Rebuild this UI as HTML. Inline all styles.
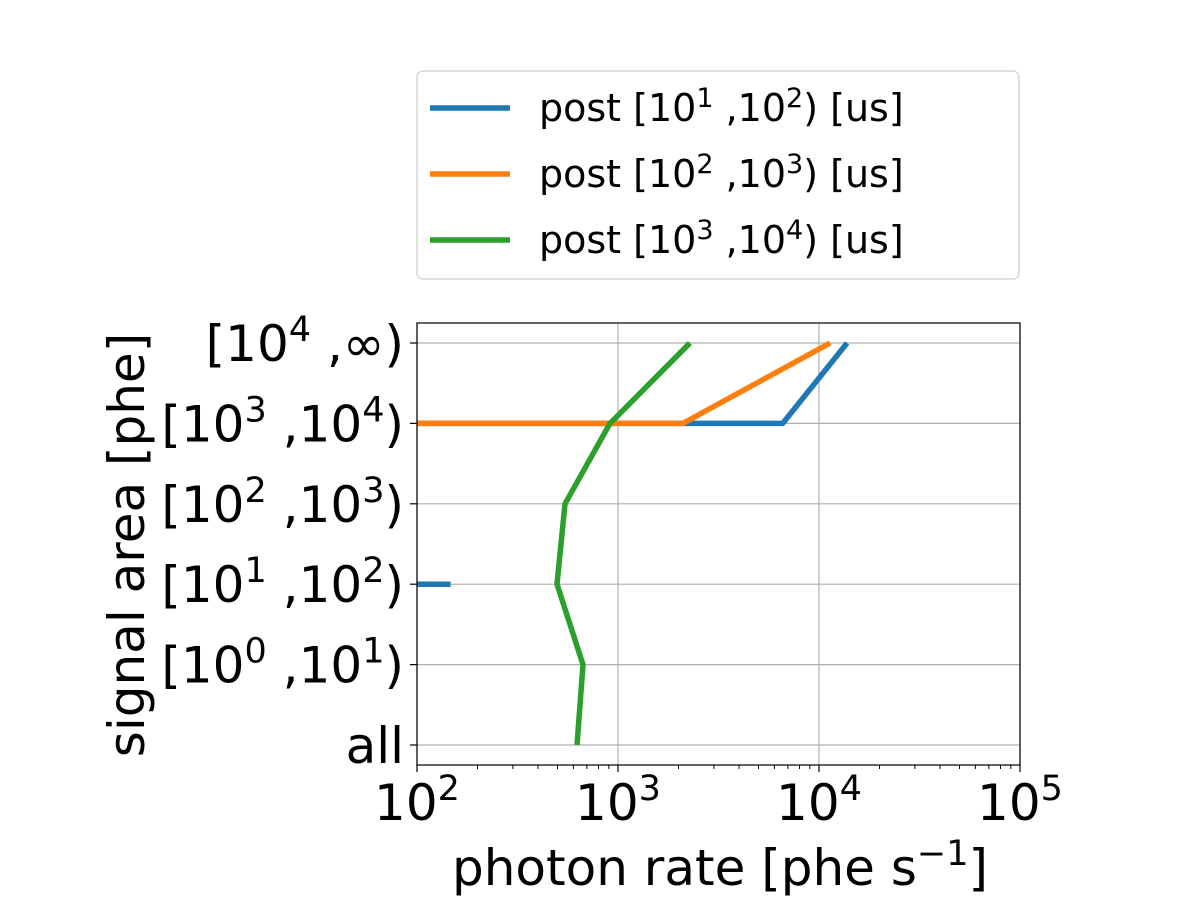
<!DOCTYPE html>
<html><head><meta charset="utf-8"><style>
html,body{margin:0;padding:0;background:#fff;}
svg{display:block;font-family:"DejaVu Sans","Liberation Sans",sans-serif;}
</style></head><body>
<svg id="chart" width="1200" height="900" viewBox="0 0 1200 900">
<g id="grid"></g>
<g id="series"></g>
<rect x="417" y="323" width="603" height="442" fill="none" stroke="#000" stroke-width="1.2"/>
<g id="ticks"></g>
<text x="720" y="885" font-size="50" text-anchor="middle">photon rate [phe s<tspan font-size="35" dy="-20">−1</tspan><tspan dy="20">]</tspan></text>
<text transform="translate(144,545) rotate(-90)" font-size="50" text-anchor="middle">signal area [phe]</text>
<g>
<rect x="417" y="71" width="602" height="208" rx="6" fill="#fff" stroke="#ccc" stroke-width="1.2"/>
<line x1="430" y1="108" x2="510" y2="108" stroke="#1f77b4" stroke-width="5.5"/>
<text x="539" y="121" font-size="38">post [10<tspan font-size="27" dy="-14">1</tspan><tspan dy="14"> ,10</tspan><tspan font-size="27" dy="-14">2</tspan><tspan dy="14">) [us]</tspan></text>
<line x1="430" y1="174" x2="510" y2="174" stroke="#ff7f0e" stroke-width="5.5"/>
<text x="539" y="187" font-size="38">post [10<tspan font-size="27" dy="-14">2</tspan><tspan dy="14"> ,10</tspan><tspan font-size="27" dy="-14">3</tspan><tspan dy="14">) [us]</tspan></text>
<line x1="430" y1="240" x2="510" y2="240" stroke="#2ca02c" stroke-width="5.5"/>
<text x="539" y="253" font-size="38">post [10<tspan font-size="27" dy="-14">3</tspan><tspan dy="14"> ,10</tspan><tspan font-size="27" dy="-14">4</tspan><tspan dy="14">) [us]</tspan></text>
</g>
</svg>
<script>
const categories = ["all","[10^0,10^1)","[10^1,10^2)","[10^2,10^3)","[10^3,10^4)","[10^4,inf)"];
const xTickExps = [2,3,4,5];
// series: segments of [categoryIndex, value]; value 0 = clipped at axis left
const blueSeg1Cat = [2,2], blueSeg1Val = [0,147];
const blueSeg2Cat = [4,4,5], blueSeg2Val = [0,6600,13800];
const orangeCat = [4,4,5], orangeVal = [0,2100,11350];
const greenCat = [0,1,2,3,4,5], greenVal = [625,670,497,545,912,2280];

const NS="http://www.w3.org/2000/svg";
const X0=417,X1=1020,Y0=323,Y1=765,LMIN=2,LMAX=5;
const xs=v=>v<=0?X0-40:X0+(Math.log10(v)-LMIN)/(LMAX-LMIN)*(X1-X0);
const ys=i=>745-i*80.4;
function mk(t,a,p){const e=document.createElementNS(NS,t);for(const k in a)e.setAttribute(k,a[k]);p.appendChild(e);return e;}
const grid=document.getElementById('grid'),ticks=document.getElementById('ticks'),ser=document.getElementById('series');
xTickExps.forEach(ex=>{const x=xs(Math.pow(10,ex));
 const g=mk('line',{x1:x,x2:x,y1:Y0,y2:Y1,stroke:'#b0b0b0','stroke-width':1.2},grid);
 
 const t=mk('line',{x1:x,x2:x,y1:Y1,y2:Y1+7,stroke:'#000','stroke-width':1.2},ticks);
 
 const l=mk('text',{x:x,y:Y1+55,'font-size':50,'text-anchor':'middle'},ticks);
 l.innerHTML='10<tspan font-size="35" dy="-20">'+ex+'</tspan>';
 
 if(ex<LMAX)for(let m=2;m<10;m++){const xm=xs(m*Math.pow(10,ex));
  const mt=mk('line',{x1:xm,x2:xm,y1:Y1,y2:Y1+4,stroke:'#000','stroke-width':1},ticks);
  }
});
const sup=(a)=>'<tspan font-size="35" dy="-20">'+a+'</tspan>';
const labs=['all','[10'+sup(0)+'<tspan dy="20"> ,10</tspan>'+sup(1)+'<tspan dy="20">)</tspan>',
'[10'+sup(1)+'<tspan dy="20"> ,10</tspan>'+sup(2)+'<tspan dy="20">)</tspan>',
'[10'+sup(2)+'<tspan dy="20"> ,10</tspan>'+sup(3)+'<tspan dy="20">)</tspan>',
'[10'+sup(3)+'<tspan dy="20"> ,10</tspan>'+sup(4)+'<tspan dy="20">)</tspan>',
'[10'+sup(4)+'<tspan dy="20"> ,∞)</tspan>'];
categories.forEach((c,i)=>{const y=ys(i);
 const g=mk('line',{x1:X0,x2:X1,y1:y,y2:y,stroke:'#b0b0b0','stroke-width':1.2},grid);
 
 const t=mk('line',{x1:X0-7,x2:X0,y1:y,y2:y,stroke:'#000','stroke-width':1.2},ticks);
 
 const l=mk('text',{x:X0-13,y:y+18,'font-size':50,'text-anchor':'end'},ticks);
 l.innerHTML=labs[i];
 
});
const cp=mk('clipPath',{id:'cp'},ser);
mk('rect',{x:X0,y:Y0-20,width:X1-X0,height:Y1-Y0+40},cp);
function draw(cats,vals,col,name){
 const pts=cats.map((c,i)=>xs(vals[i]).toFixed(1)+','+ys(c).toFixed(1)).join(' ');
 const p=mk('polyline',{points:pts,fill:'none',stroke:col,'stroke-width':5.5,'stroke-linejoin':'round','clip-path':'url(#cp)'},ser);
 }
draw(blueSeg1Cat,blueSeg1Val,'#1f77b4','series-blue-low');
draw(blueSeg2Cat,blueSeg2Val,'#1f77b4','series-blue-high');
draw(orangeCat,orangeVal,'#ff7f0e','series-orange');
draw(greenCat,greenVal,'#2ca02c','series-green');
</script>
</body></html>
